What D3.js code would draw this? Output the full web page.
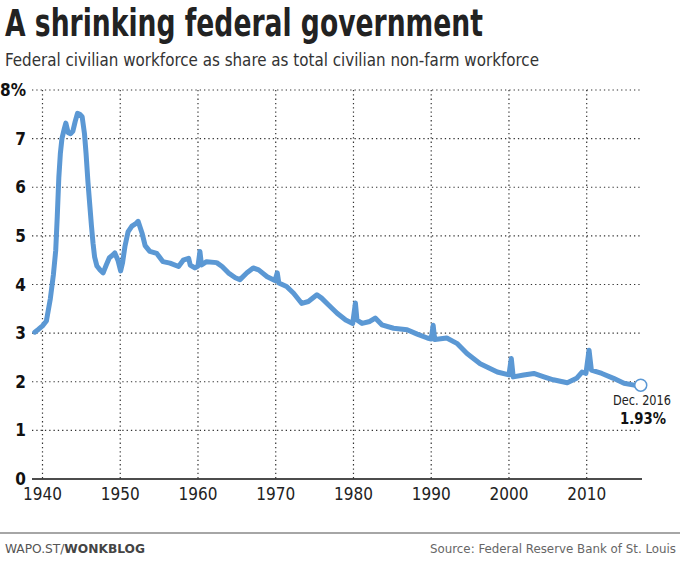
<!DOCTYPE html>
<html>
<head>
<meta charset="utf-8">
<script src="https://cdn.jsdelivr.net/npm/d3@7"></script>
<style>
  html, body { margin: 0; padding: 0; background: #fff; }
  svg { display: block; }
  text { font-family: "Liberation Sans Narrow", "DejaVu Sans Condensed", "Roboto", sans-serif; }
</style>
</head>
<body>
<div id="chart"></div>
<script>
// ---- data (decimal year, % of non-farm civilian workforce) ----
const years = [
  1939.0, 1939.5, 1940.0, 1940.5, 1941.0, 1941.4, 1941.7, 1941.9, 1942.1, 1942.3,
  1942.5, 1942.8, 1943.0, 1943.3, 1943.6, 1943.9, 1944.2, 1944.5, 1944.8, 1945.1,
  1945.4, 1945.6, 1945.85, 1946.1, 1946.3, 1946.5, 1946.7, 1947.0, 1947.4, 1947.8,
  1948.2, 1948.6, 1949.0, 1949.3, 1949.7, 1950.05, 1950.3, 1950.6, 1951.0, 1951.5,
  1952.0, 1952.3, 1952.8, 1953.2, 1953.8, 1954.7, 1955.5, 1956.4, 1957.5, 1958.1,
  1958.8, 1959.0, 1959.6, 1960.0, 1960.25, 1960.45, 1961.1, 1962.4, 1963.1, 1963.9,
  1964.8, 1965.4, 1966.3, 1967.1, 1967.8, 1968.9, 1969.9, 1970.2, 1970.4, 1971.4,
  1972.3, 1973.35, 1974.2, 1975.3, 1975.9, 1976.8, 1977.9, 1979.0, 1979.9, 1980.25,
  1980.45, 1981.1, 1982.1, 1982.8, 1983.65, 1985.15, 1986.9, 1988.2, 1989.5, 1990.0,
  1990.25, 1990.45, 1992.0, 1993.3, 1994.6, 1996.3, 1998.5, 2000.0, 2000.3, 2000.55,
  2001.9, 2003.2, 2004.5, 2005.7, 2007.5, 2008.7, 2009.4, 2009.9, 2010.3, 2010.6,
  2011.95, 2013.45, 2014.8, 2016.1, 2016.95
];
const shares = [
  3.02, 3.08, 3.15, 3.25, 3.70, 4.20, 4.70, 5.40, 6.20, 6.70,
  7.00, 7.20, 7.32, 7.12, 7.10, 7.15, 7.35, 7.52, 7.50, 7.45,
  7.10, 6.70, 6.10, 5.60, 5.20, 4.85, 4.57, 4.38, 4.30, 4.24,
  4.40, 4.55, 4.60, 4.65, 4.50, 4.28, 4.45, 4.78, 5.08, 5.20,
  5.25, 5.30, 5.06, 4.80, 4.68, 4.64, 4.47, 4.44, 4.37, 4.50,
  4.54, 4.40, 4.34, 4.38, 4.68, 4.40, 4.47, 4.45, 4.37, 4.24,
  4.14, 4.10, 4.24, 4.34, 4.30, 4.16, 4.08, 4.24, 4.03, 3.96,
  3.82, 3.61, 3.65, 3.79, 3.72, 3.58, 3.41, 3.27, 3.20, 3.62,
  3.27, 3.20, 3.24, 3.31, 3.17, 3.10, 3.07, 2.98, 2.90, 2.88,
  3.16, 2.87, 2.90, 2.79, 2.58, 2.37, 2.20, 2.14, 2.48, 2.10,
  2.14, 2.17, 2.10, 2.04, 1.98, 2.07, 2.20, 2.17, 2.65, 2.24,
  2.17, 2.07, 1.97, 1.93, 1.93
];
const xTicks = [1940, 1950, 1960, 1970, 1980, 1990, 2000, 2010];
const yTicks = [0, 1, 2, 3, 4, 5, 6, 7, 8];
const lastLabel = "Dec. 2016";
const lastValue = "1.93%";

// ---- layout ----
const W = 680, H = 572;
const plotL = 32, plotR = 642, plotT = 90, plotB = 479;
const blue = "#5b98d4";

const svg = d3.select("#chart").append("svg").attr("width", W).attr("height", H);

const x = d3.scaleLinear().domain([1940, 2010]).range([42.5, 586.7]);
const y = d3.scaleLinear().domain([0, 8]).range([plotB, plotT]);

// title & subtitle
svg.append("text").attr("x", 5).attr("y", 36)
  .attr("font-size", 37).attr("font-weight", 700).attr("fill", "#222")
  .attr("textLength", 478).attr("lengthAdjust", "spacingAndGlyphs")
  .text("A shrinking federal government");
svg.append("text").attr("x", 5).attr("y", 66)
  .attr("font-size", 18).attr("fill", "#333")
  .attr("textLength", 534).attr("lengthAdjust", "spacingAndGlyphs")
  .text("Federal civilian workforce as share as total civilian non-farm workforce");

// gridlines
const grid = svg.append("g").attr("stroke", "#333").attr("stroke-width", 1.2)
  .attr("stroke-dasharray", "1.3,3");
grid.selectAll("line.h").data(yTicks.filter(d => d > 0)).join("line")
  .attr("class", "h")
  .attr("x1", plotL).attr("x2", plotR)
  .attr("y1", d => y(d)).attr("y2", d => y(d));
grid.selectAll("line.v").data(xTicks).join("line")
  .attr("class", "v")
  .attr("x1", d => x(d)).attr("x2", d => x(d))
  .attr("y1", plotT).attr("y2", plotB);

// baseline
svg.append("line").attr("x1", plotL).attr("x2", plotR)
  .attr("y1", plotB).attr("y2", plotB)
  .attr("stroke", "#111").attr("stroke-width", 1.5);

// y labels
svg.append("g").selectAll("text").data(yTicks).join("text")
  .attr("x", 26).attr("y", d => y(d) + 6)
  .attr("text-anchor", "end").attr("font-size", 17).attr("font-weight", 700)
  .attr("fill", "#111")
  .text(d => d === 8 ? "8%" : d);

// x labels
svg.append("g").selectAll("text").data(xTicks).join("text")
  .attr("x", d => x(d)).attr("y", 500)
  .attr("text-anchor", "middle").attr("font-size", 17).attr("fill", "#222")
  .text(d => d);

// line
const data = years.map((yr, i) => ({ yr, v: shares[i] }));
const line = d3.line().x(d => x(d.yr)).y(d => y(d.v)).curve(d3.curveLinear);
svg.append("path").datum(data)
  .attr("fill", "none").attr("stroke", blue).attr("stroke-width", 5)
  .attr("stroke-linejoin", "round").attr("stroke-linecap", "round")
  .attr("d", line);

// end marker
const last = data[data.length - 1];
svg.append("circle").attr("cx", x(last.yr)).attr("cy", y(last.v)).attr("r", 6)
  .attr("fill", "#fff").attr("stroke", blue).attr("stroke-width", 1.5);
svg.append("text").attr("x", 642).attr("y", 405).attr("text-anchor", "middle")
  .attr("font-size", 14).attr("fill", "#222")
  .attr("textLength", 58).attr("lengthAdjust", "spacingAndGlyphs").text(lastLabel);
svg.append("text").attr("x", 643).attr("y", 424).attr("text-anchor", "middle")
  .attr("font-size", 16).attr("font-weight", 700).attr("fill", "#111")
  .attr("textLength", 46).attr("lengthAdjust", "spacingAndGlyphs").text(lastValue);

// footer
svg.append("line").attr("x1", 0).attr("x2", W).attr("y1", 533).attr("y2", 533)
  .attr("stroke", "#888").attr("stroke-width", 1.5);
const f = svg.append("text").attr("x", 5).attr("y", 553).attr("font-size", 13).attr("fill", "#555")
  .attr("textLength", 140).attr("lengthAdjust", "spacingAndGlyphs");
f.append("tspan").text("WAPO.ST/");
f.append("tspan").attr("font-weight", 700).attr("fill", "#444").text("WONKBLOG");
svg.append("text").attr("x", 430).attr("y", 553).attr("text-anchor", "start")
  .attr("font-size", 12.5).attr("fill", "#666")
  .attr("textLength", 246).attr("lengthAdjust", "spacingAndGlyphs")
  .text("Source: Federal Reserve Bank of St. Louis");
</script>
</body>
</html>
